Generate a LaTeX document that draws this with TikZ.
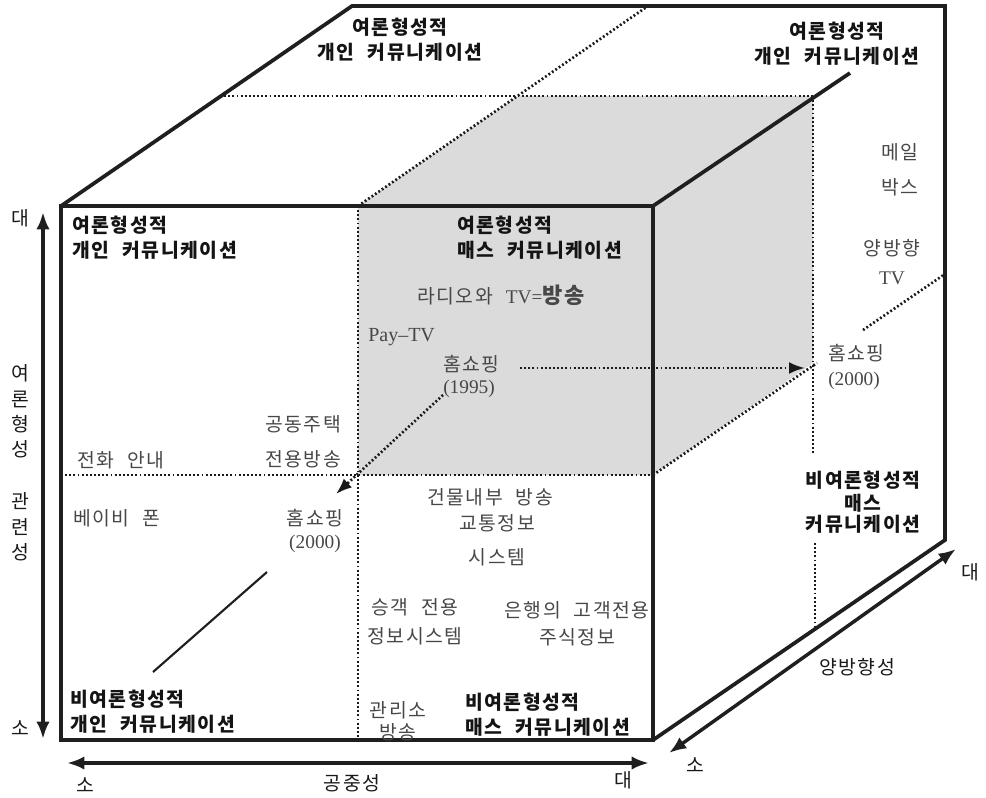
\documentclass[tikz,border=0pt]{standalone}
\usepackage{fontspec}
\setmainfont{Liberation Serif}
\newfontfamily\kr[WordSpace=2.2,LetterSpace=8]{Noto Sans CJK KR}
\usetikzlibrary{arrows.meta}
\begin{document}
\begin{tikzpicture}[x=0.75pt,y=-0.75pt,
  frame/.style={line width=2.8pt, line join=miter, black!88},
  dotline/.style={line width=2pt, dash pattern=on 1.4pt off 1.7pt, black!90},
  thinline/.style={line width=1.6pt, black!88},
  dblarrow/.style={line width=2.6pt, black!88, {Latex[length=13pt,width=10pt]}-{Latex[length=13pt,width=10pt]}},
  dotarrow/.style={dotline, -{Latex[length=12pt,width=9pt]}},
  lbl/.style={font=\kr\fontsize{14.5}{18.5}\selectfont, text=black!72, inner sep=0pt, align=center},
  latn/.style={font=\fontsize{15}{18.5}\selectfont, text=black!72, inner sep=0pt},
  blbl/.style={font=\kr\bfseries\fontsize{14.5}{18.5}\selectfont, text=black!92, inner sep=0pt, align=left},
  axlbl/.style={font=\kr\fontsize{14.5}{18.5}\selectfont, text=black!90, inner sep=0pt, align=center},
]
\useasboundingbox (0,0) rectangle (986,797);

% shaded box
\fill[black!14] (358,475) -- (358,206) -- (518,96) -- (813,96) -- (813,363) -- (653,475) -- cycle;

% dotted construction lines
\draw[dotline] (220,96) -- (813,96);
\draw[dotline] (358,206) -- (648,6);
\draw[dotline] (358,206) -- (358,740);
\draw[dotline] (61,475) -- (653,475);
\draw[dotline] (813,96) -- (813,453);
\draw[dotline] (815,543) -- (815,628);
\draw[dotline] (653,475) -- (817,363);
\draw[dotline] (863,330) -- (945,274);

% solid frame
\draw[frame] (61,206) -- (653,206) -- (653,740) -- (61,740) -- cycle;
\draw[frame] (61,206) -- (352,6) -- (945,6) -- (945,540) -- (653,740);
\draw[frame] (653,206) -- (850,73);

% texts: top face
\node[blbl, align=center] (tl) at (400,40) {여론형성적\\개인 커뮤니케이션};
\node[blbl, align=center] (tr) at (837,44) {여론형성적\\개인 커뮤니케이션};

% front face
\node[blbl, anchor=west] (ful) at (72,238) {여론형성적\\개인 커뮤니케이션};
\node[blbl, anchor=west] (fur) at (457,238) {여론형성적\\매스 커뮤니케이션};
\node[lbl] (radio) at (501,295) {라디오와 {\fontspec{Liberation Serif}TV=}{\bfseries\fontsize{16.5}{18}\selectfont 방송}};
\node[latn, anchor=west] (paytv) at (368,337) {Pay\textendash TV};
\node[lbl, anchor=west, align=left] (h1995) at (443,376) {홈쇼핑\\[-2pt]{\fontspec{Liberation Serif}(1995)}};
\node[lbl] (gongdong) at (303,442) {공동주택\\[7.5pt]전용방송};
\node[lbl, anchor=west] (jeonhwa) at (77,460) {전화 안내};
\node[lbl, anchor=west] (baby) at (73,518) {베이비 폰};
\node[lbl] (h2000a) at (315,531) {홈쇼핑\\[-1pt]{\fontspec{Liberation Serif}(2000)}};
\node[lbl] (geonmul) at (490,497) {건물내부 방송};
\node[lbl] (gyotong) at (497,540) {교통정보\\[7pt]시스템};
\node[lbl] (seunggaek) at (415,622) {승객 전용\\[3pt]정보시스템};
\node[lbl] (eunhaeng) at (577,624) {은행의 고객전용\\[2pt]주식정보};
\node[lbl] (gwanri) at (398,721) {관리소\\[-2pt]방송};
\node[blbl, anchor=west] (fbr) at (465,715) {비여론형성적\\매스 커뮤니케이션};
\node[blbl, anchor=west] (fbl) at (70,712) {비여론형성적\\개인 커뮤니케이션};

% right face
\node[lbl] (mail) at (900,170) {메일\\[7.5pt]박스};
\node[lbl] (yangtv) at (892,262) {양방향\\[3pt]{\fontspec{Liberation Serif}TV}};
\node[lbl, anchor=west, align=left] (h2000b) at (828,367) {홈쇼핑\\[0pt]{\fontspec{Liberation Serif}(2000)}};
\node[blbl, align=center] (rmass) at (863,502) {비여론형성적\\[-1pt]매스\\[-3pt]커뮤니케이션};

% lower-left solid line
\coordinate (sl1) at (267,572);
\coordinate (sl2) at (153,672);
\draw[thinline] (sl1) -- (sl2);

% dotted arrows
\coordinate (a1s) at (520,368);
\coordinate (a1e) at (805,368);
\draw[dotarrow] (a1s) -- (a1e);
\coordinate (a2s) at (443,395);
\coordinate (a2e) at (336,494);
\draw[dotarrow] (a2s) -- (a2e);

% axes
\coordinate (vT) at (43,212);
\coordinate (vB) at (43,739);
\draw[dblarrow] (vT) -- (vB);
\node[axlbl] (vdae) at (20,218) {대};
\node[axlbl] (vso) at (20,728) {소};
\node[axlbl, font=\kr\fontsize{14.5}{19}\selectfont] (vtxt) at (20,463) {여\\론\\형\\성\\[20pt]관\\련\\성};

\coordinate (hL) at (67,763);
\coordinate (hR) at (649,763);
\draw[dblarrow] (hL) -- (hR);
\node[axlbl] (hso) at (85,785) {소};
\node[axlbl] (hgong) at (352,783) {공중성};
\node[axlbl] (hdae) at (623,780) {대};

\coordinate (dL) at (669,753);
\coordinate (dR) at (956,549);
\draw[dblarrow] (dL) -- (dR);
\node[axlbl] (ddae) at (970,572) {대};
\node[axlbl] (dso) at (695,765) {소};
\node[axlbl] (dyang) at (857,667) {양방향성};
\end{tikzpicture}
\end{document}
